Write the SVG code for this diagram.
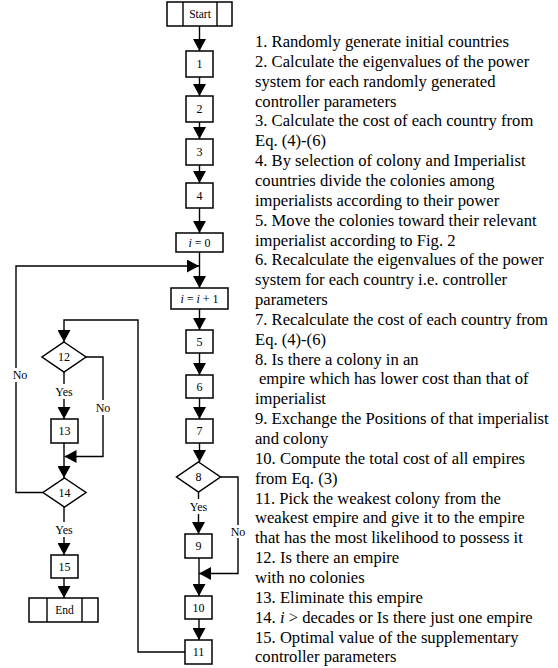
<svg xmlns="http://www.w3.org/2000/svg" width="558" height="668" viewBox="0 0 558 668">
<style>
.b{fill:#fff;stroke:#000;stroke-width:1.5}
.c{fill:none;stroke:#000;stroke-width:1.4}
.l{font-family:"Liberation Serif","Times New Roman",serif;font-size:12px;fill:#000;text-anchor:middle}
.t{font-family:"Liberation Serif","Times New Roman",serif;font-size:16.6px;fill:#000}
</style>
<defs>
<marker id="ah" viewBox="0 0 12 13" refX="12" refY="6.5" markerWidth="12" markerHeight="13" orient="auto" markerUnits="userSpaceOnUse">
<path d="M0,0 L12,6.5 L0,13 Z" fill="#000"/>
</marker>
</defs>
<rect width="558" height="668" fill="#fff"/>
<g id="connectors">
<line class="c" x1="199.5" y1="26" x2="199.5" y2="51" marker-end="url(#ah)"/>
<line class="c" x1="199.5" y1="77" x2="199.5" y2="96" marker-end="url(#ah)"/>
<line class="c" x1="199.5" y1="122" x2="199.5" y2="139" marker-end="url(#ah)"/>
<line class="c" x1="199.5" y1="165" x2="199.5" y2="183" marker-end="url(#ah)"/>
<line class="c" x1="199.5" y1="208" x2="199.5" y2="233" marker-end="url(#ah)"/>
<line class="c" x1="199.5" y1="252" x2="199.5" y2="288" marker-end="url(#ah)"/>
<line class="c" x1="199.5" y1="309" x2="199.5" y2="330" marker-end="url(#ah)"/>
<line class="c" x1="199.5" y1="353" x2="199.5" y2="375" marker-end="url(#ah)"/>
<line class="c" x1="199.5" y1="398" x2="199.5" y2="419" marker-end="url(#ah)"/>
<line class="c" x1="199.5" y1="443" x2="199.5" y2="462" marker-end="url(#ah)"/>
<line class="c" x1="198.5" y1="492" x2="198.5" y2="499"/>
<line class="c" x1="198.5" y1="514" x2="198.5" y2="534" marker-end="url(#ah)"/>
<path class="c" d="M220.5,477 H238 V525"/>
<path class="c" d="M238,538 V573.5 H199" marker-end="url(#ah)"/>
<line class="c" x1="199" y1="558" x2="199" y2="596" marker-end="url(#ah)"/>
<line class="c" x1="199" y1="619" x2="199" y2="640" marker-end="url(#ah)"/>
<path class="c" d="M185,652 H138 V320 H64 V342" marker-end="url(#ah)"/>
<path class="c" d="M86,357 H103 V400"/>
<path class="c" d="M103,415 V456.5 H64.5" marker-end="url(#ah)"/>
<line class="c" x1="64" y1="372" x2="64" y2="384"/>
<line class="c" x1="64" y1="399" x2="64" y2="419" marker-end="url(#ah)"/>
<line class="c" x1="64" y1="443" x2="64" y2="478" marker-end="url(#ah)"/>
<path class="c" d="M43,492.5 H16 V382"/>
<path class="c" d="M16,368 V266 H199" marker-end="url(#ah)"/>
<line class="c" x1="64" y1="507" x2="64" y2="522"/>
<line class="c" x1="64" y1="537" x2="64" y2="555" marker-end="url(#ah)"/>
<line class="c" x1="64" y1="578" x2="64" y2="598" marker-end="url(#ah)"/>
<text class="l" x="198.5" y="511">Yes</text>
<text class="l" x="238" y="535.5">No</text>
<text class="l" x="103" y="412">No</text>
<text class="l" x="64" y="396">Yes</text>
<text class="l" x="20" y="379">No</text>
<text class="l" x="64" y="534">Yes</text>
</g>
<g id="start"><rect class="b" x="167" y="2" width="65" height="24"/><line class="c" x1="183" y1="2" x2="183" y2="26"/><line class="c" x1="217" y1="2" x2="217" y2="26"/><text class="l" x="200" y="18" style="font-size:11.5px">Start</text></g>
<g id="n1"><rect class="b" x="186" y="51" width="27" height="26"/><text class="l" x="199.5" y="68">1</text></g>
<g id="n2"><rect class="b" x="186" y="96" width="27" height="26"/><text class="l" x="199.5" y="113">2</text></g>
<g id="n3"><rect class="b" x="186" y="139" width="27" height="26"/><text class="l" x="199.5" y="156">3</text></g>
<g id="n4"><rect class="b" x="186" y="183" width="27" height="25"/><text class="l" x="199.5" y="199.5">4</text></g>
<g id="i0"><rect class="b" x="176" y="233" width="47" height="19"/><text class="l" x="199.5" y="246.5"><tspan font-style="italic">i</tspan> = 0</text></g>
<g id="inc"><rect class="b" x="171" y="288" width="57" height="21"/><text class="l" x="199.5" y="302.5"><tspan font-style="italic">i</tspan> = <tspan font-style="italic">i</tspan> + 1</text></g>
<g id="n5"><rect class="b" x="186" y="330" width="27" height="23"/><text class="l" x="199.5" y="345.5">5</text></g>
<g id="n6"><rect class="b" x="186" y="375" width="27" height="23"/><text class="l" x="199.5" y="390.5">6</text></g>
<g id="n7"><rect class="b" x="186" y="419" width="27" height="24"/><text class="l" x="199.5" y="435">7</text></g>
<g id="n8"><polygon class="b" points="198.5,462 220.5,477 198.5,492 176.5,477"/><text class="l" x="198.5" y="481">8</text></g>
<g id="n9"><rect class="b" x="185" y="534" width="27" height="24"/><text class="l" x="198.5" y="550">9</text></g>
<g id="n10"><rect class="b" x="185" y="596" width="27" height="23"/><text class="l" x="198.5" y="611.5">10</text></g>
<g id="n11"><rect class="b" x="185" y="640" width="27" height="24"/><text class="l" x="198.5" y="656">11</text></g>
<g id="n12"><polygon class="b" points="64,342 86,357 64,372 42,357"/><text class="l" x="64" y="361">12</text></g>
<g id="n13"><rect class="b" x="51" y="419" width="27" height="24"/><text class="l" x="64.5" y="435">13</text></g>
<g id="n14"><polygon class="b" points="64.5,478 86,492.5 64.5,507 43,492.5"/><text class="l" x="64.5" y="496.5">14</text></g>
<g id="n15"><rect class="b" x="51" y="555" width="27" height="23"/><text class="l" x="64.5" y="570.5">15</text></g>
<g id="end"><rect class="b" x="29" y="598" width="69" height="24"/><line class="c" x1="47" y1="598" x2="47" y2="622"/><line class="c" x1="82" y1="598" x2="82" y2="622"/><text class="l" x="64.5" y="614" style="font-size:11.5px">End</text></g>
<g id="legend">
<text class="t" x="255">
<tspan x="255" y="47">1. Randomly generate initial countries</tspan>
<tspan x="255" dy="19.85">2. Calculate the eigenvalues of the power</tspan>
<tspan x="255" dy="19.85">system for each randomly generated</tspan>
<tspan x="255" dy="19.85">controller parameters</tspan>
<tspan x="255" dy="19.85">3. Calculate the cost of each country from</tspan>
<tspan x="255" dy="19.85">Eq. (4)-(6)</tspan>
<tspan x="255" dy="19.85">4. By selection of colony and Imperialist</tspan>
<tspan x="255" dy="19.85">countries divide the colonies among</tspan>
<tspan x="255" dy="19.85">imperialists according to their power</tspan>
<tspan x="255" dy="19.85">5. Move the colonies toward their relevant</tspan>
<tspan x="255" dy="19.85">imperialist according to Fig. 2</tspan>
<tspan x="255" dy="19.85">6. Recalculate the eigenvalues of the power</tspan>
<tspan x="255" dy="19.85">system for each country i.e. controller</tspan>
<tspan x="255" dy="19.85">parameters</tspan>
<tspan x="255" dy="19.85">7. Recalculate the cost of each country from</tspan>
<tspan x="255" dy="19.85">Eq. (4)-(6)</tspan>
<tspan x="255" dy="19.85">8. Is there a colony in an</tspan>
<tspan x="259" dy="19.85">empire which has lower cost than that of</tspan>
<tspan x="255" dy="19.85">imperialist</tspan>
<tspan x="255" dy="19.85">9. Exchange the Positions of that imperialist</tspan>
<tspan x="255" dy="19.85">and colony</tspan>
<tspan x="255" dy="19.85">10. Compute the total cost of all empires</tspan>
<tspan x="255" dy="19.85">from Eq. (3)</tspan>
<tspan x="255" dy="19.85">11. Pick the weakest colony from the</tspan>
<tspan x="255" dy="19.85">weakest empire and give it to the empire</tspan>
<tspan x="255" dy="19.85">that has the most likelihood to possess it</tspan>
<tspan x="255" dy="19.85">12. Is there an empire</tspan>
<tspan x="255" dy="19.85">with no colonies</tspan>
<tspan x="255" dy="19.85">13. Eliminate this empire</tspan>
<tspan x="255" dy="19.85">14. <tspan font-style="italic">i</tspan> &gt; decades or Is there just one empire</tspan>
<tspan x="255" dy="19.85">15. Optimal value of the supplementary</tspan>
<tspan x="255" dy="19.85">controller parameters</tspan>
</text>
</g>
</svg>
